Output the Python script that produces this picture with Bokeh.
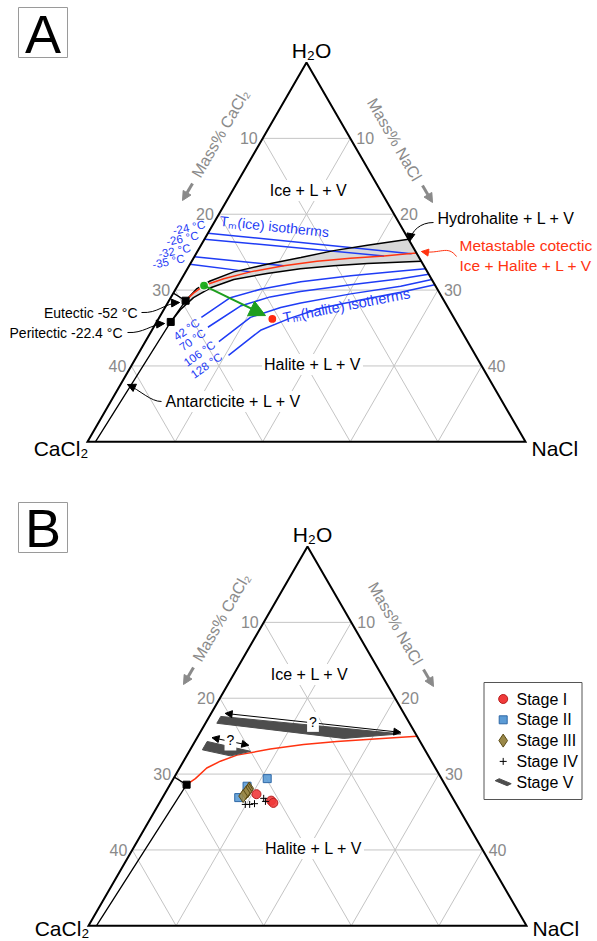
import numpy as np
from bokeh.plotting import figure
from bokeh.models import Range1d, Label, Arrow, NormalHead
from bokeh.embed import file_html
from bokeh.resources import INLINE

FONT = "Liberation Sans"

# ---------------- data (mass% CaCl2 = c, mass% NaCl = n) ----------------
ticks = [10, 20, 30, 40]
tick_labels = ["10", "20", "30", "40"]

eutectic = (29.5, 1.9)
peritectic = (32.6, 1.6)
binary_eutectic_c = 30.4
antarcticite_base = (49.1, 0.9)

hh_upper_c = [29.5, 27.4, 25.4, 22.1, 17.8, 13.5, 9.3, 5.1, 0.0]
hh_upper_n = [1.9, 2.4, 3.4, 5.5, 8.8, 12.2, 15.5, 19.0, 23.3]
hh_lower_c = [32.6, 30.7, 28.4, 25.8, 22.6, 18.4, 14.3, 10.3, 6.3, 0.0]
hh_lower_n = [1.6, 1.9, 2.6, 3.9, 6.0, 9.4, 12.9, 16.5, 20.2, 26.2]

cot_A_c = [29.5, 28.1, 26.4, 23.7, 20.2, 16.0, 11.9, 7.9, 3.9, 0.0]
cot_A_n = [1.9, 2.3, 3.0, 4.8, 7.4, 10.8, 14.3, 17.9, 21.6, 25.1]

ice_iso_labels = ["-24 °C", "-26 °C", "-32 °C", "-35 °C"]
ice_iso_c0 = [22.5, 23.3, 25.6, 26.6]
ice_iso_c1 = [0.6, 3.9, 16.0, 20.2]
ice_iso_n1 = [24.6, 21.6, 10.8, 7.4]

hal_iso_labels = ["42 °C", "70 °C", "106 °C", "128 °C"]
hal_iso_c = [[28.8, 24.2, 20.2, 15.1, 9.0, 3.0, 0.0],
             [28.7, 23.6, 19.6, 15.8, 9.6, 3.5, 0.0],
             [28.4, 23.2, 19.1, 16.5, 10.2, 4.0, 0.0],
             [28.2, 22.9, 18.7, 14.6, 9.5, 4.4, 0.0]]
hal_iso_n = [[4.8, 6.8, 9.7, 13.8, 19.1, 24.5, 27.2],
             [6.2, 8.5, 11.3, 14.4, 19.7, 25.0, 27.9],
             [8.4, 10.4, 13.2, 15.2, 20.3, 25.5, 28.6],
             [10.4, 12.4, 15.0, 17.8, 21.8, 25.9, 29.3]]

green_pt = (26.4, 3.0)
red_pt = (20.8, 13.0)

cot_B_c = [29.5, 28.1, 26.1, 24.1, 21.8, 17.6, 13.5, 9.5, 5.5, 0.0]
cot_B_n = [1.9, 2.5, 3.1, 4.2, 5.7, 9.1, 12.6, 16.2, 19.9, 25.0]

s5_big_c = [21.1, 1.7, 8.5, 22.0]
s5_big_n = [1.3, 23.0, 16.8, 1.3]
s5_big_arrow_c = [20.4, 1.6]
s5_big_arrow_n = [1.6, 22.9]
s5_small_c = [24.3, 20.0, 22.6, 25.4]
s5_small_n = [1.4, 7.0, 5.0, 1.4]
s5_small_arrow_c = [23.5, 19.8]
s5_small_arrow_n = [1.7, 6.4]

stage1_c = [22.15, 20.9, 20.8]
stage1_n = [10.5, 12.6, 13.0]
stage2_c = [19.9, 22.7, 24.4]
stage2_n = [10.7, 8.9, 8.7]
stage3_c = [22.6, 22.75, 23.0, 23.3, 23.8]
stage3_n = [9.3, 9.3, 9.3, 9.2, 9.1]
stage4_c = [24.1, 23.6, 23.0, 21.6, 21.6]
stage4_n = [9.9, 10.4, 10.9, 11.6, 12.0]

legend_labels = ["Stage I", "Stage II", "Stage III", "Stage IV", "Stage V"]

# ---------------- ternary frame ----------------
HW = 219.0
H = 379.3
APEX = {"A": (306.0, 62.0), "B": (307.0, 546.0)}
CORNER_DY = {"A": 7.0, "B": 3.0}


def tern(c, n, panel):
    c = np.asarray(c, dtype=float)
    n = np.asarray(n, dtype=float)
    ax, ay = APEX[panel]
    return ax + (n - c) / 50.0 * HW, ay + (c + n) / 50.0 * H


p = figure(width=597, height=941, x_range=Range1d(0, 597), y_range=Range1d(941, 0),
           min_border=0, toolbar_location=None, output_backend="svg",
           x_axis_location=None, y_axis_location=None)
p.grid.visible = False
p.outline_line_color = None

GRAY_TXT = "#8a8a8a"
BLUE = "#1f3cf5"
RED = "#ff3311"
GREEN = "#1e9e1e"


def label(x, y, text, size=16, color="black", align="center", baseline="middle",
          angle=0, bg=None):
    kw = {}
    if bg is not None:
        kw = dict(background_fill_color=bg, background_fill_alpha=1.0, padding=2)
    p.add_layout(Label(x=x, y=y, text=text, text_font=FONT, text_font_size=f"{size}px",
                       text_color=color, text_align=align, text_baseline=baseline,
                       angle=angle, angle_units="deg", **kw))


def arrow(x0, y0, x1, y1, color="black", width=1, head=7):
    p.add_layout(Arrow(end=NormalHead(size=head, fill_color=color, line_color=color, line_width=1),
                       x_start=x0, y_start=y0, x_end=x1, y_end=y1,
                       line_color=color, line_width=width))


def curved_arrow(x0, y0, cx0, cy0, cx1, cy1, x1, y1, color="black", width=1, head=7):
    p.bezier(x0=[x0], y0=[y0], x1=[x1], y1=[y1], cx0=[cx0], cy0=[cy0], cx1=[cx1], cy1=[cy1],
             line_color=color, line_width=width)
    dx, dy = x1 - cx1, y1 - cy1
    L = float(np.hypot(dx, dy))
    arrow(x1 - dx / L * 2, y1 - dy / L * 2, x1, y1, color=color, width=width, head=head)


def frame(panel):
    xs, ys = [], []
    for k in ticks:
        for (c0, n0, c1, n1) in [(k, 0, 0, k), (k, 0, k, 50 - k), (0, k, 50 - k, k)]:
            gx, gy = tern([c0, c1], [n0, n1], panel)
            xs.append(list(gx))
            ys.append(list(gy))
    p.multi_line(xs, ys, line_color="#c4c4c4", line_width=1)


def outline(panel):
    ox, oy = tern([0, 50, 0, 0], [0, 0, 50, 0], panel)
    p.line(ox, oy, line_color="black", line_width=2, line_join="miter")


def frame_text(panel):
    ax, ay = APEX[panel]
    for k, t in zip(ticks, tick_labels):
        lx, ly = tern(k, 0, panel)
        label(float(lx) - 5, float(ly), t, size=16, color=GRAY_TXT, align="right")
        rx, ry = tern(0, k, panel)
        label(float(rx) + 6, float(ry), t, size=16, color=GRAY_TXT, align="left")
    label(ax - 86, ay + 71, "Mass% CaCl₂", size=16, color=GRAY_TXT, angle=60)
    label(ax + 88, ay + 77, "Mass% NaCl", size=16, color=GRAY_TXT, angle=-60)
    arrow(ax - 114, ay + 121, ax - 124, ay + 138, color=GRAY_TXT, width=3, head=9)
    arrow(ax + 116, ay + 123, ax + 126, ay + 140, color=GRAY_TXT, width=3, head=9)
    label(ax + 5, ay - 12, "H₂O", size=21)
    label(ax - HW + 1, ay + H + CORNER_DY[panel], "CaCl₂", size=21, align="right")
    label(ax + HW + 6, ay + H + CORNER_DY[panel], "NaCl", size=21, align="left")
    label(ax + 2, ay + 128, "Ice + L + V", size=16, bg="white")
    label(ax + 6, ay + 302, "Halite + L + V", size=16, bg="white")


# ======================= Panel A =======================
frame("A")

ux, uy = tern(hh_upper_c, hh_upper_n, "A")
lx, ly = tern(hh_lower_c, hh_lower_n, "A")
bx = list(ux) + list(lx[::-1])
by = list(uy) + list(ly[::-1])
p.patch(bx, by, fill_color="#d9d9d9", line_color=None)

ice_lab_pos = [(188.5, 227), (182, 238), (174, 250.5), (168, 261)]
for i, lab in enumerate(ice_iso_labels):
    ix, iy = tern([ice_iso_c0[i], ice_iso_c1[i]], [0, ice_iso_n1[i]], "A")
    p.line(ix, iy, line_color=BLUE, line_width=1.5)
    label(ice_lab_pos[i][0], ice_lab_pos[i][1], lab, size=11.5, color=BLUE, angle=12)

hal_lab_pos = [(186, 329), (192, 339.5), (199, 353), (206, 365)]
for i, lab in enumerate(hal_iso_labels):
    hx, hy = tern(hal_iso_c[i], hal_iso_n[i], "A")
    p.line(hx, hy, line_color=BLUE, line_width=1.5)
    label(hal_lab_pos[i][0], hal_lab_pos[i][1], lab, size=11.5, color=BLUE, angle=35)

p.line(ux, uy, line_color="black", line_width=1.5)
p.line(lx, ly, line_color="black", line_width=1.5)
cx_, cy_ = tern(cot_A_c, cot_A_n, "A")
p.line(cx_, cy_, line_color=RED, line_width=1.5)

inx, iny = tern([antarcticite_base[0], peritectic[0], eutectic[0], binary_eutectic_c],
                [antarcticite_base[1], peritectic[1], eutectic[1], 0], "A")
p.line(inx, iny, line_color="black", line_width=1.3)
outline("A")

sx, sy = tern([eutectic[0], peritectic[0]], [eutectic[1], peritectic[1]], "A")
p.scatter(sx, sy, marker="square", size=7, fill_color="black", line_color="black")

gx, gy = tern(*green_pt, "A")
rx, ry = tern(*red_pt, "A")
gx, gy, rx, ry = float(gx), float(gy), float(rx), float(ry)
p.add_layout(Arrow(end=NormalHead(size=16, fill_color=GREEN, line_color=GREEN),
                   x_start=gx, y_start=gy, x_end=gx + 0.9 * (rx - gx), y_end=gy + 0.9 * (ry - gy),
                   line_color=GREEN, line_width=2))
p.scatter([gx], [gy], size=9, fill_color="#22b022", line_color="white", line_width=1.2)
p.scatter([rx], [ry], size=9, fill_color="#ff2a10", line_color="white", line_width=1.2)

frame_text("A")

label(274, 226, "Tₘ(ice) isotherms", size=14, color=BLUE, angle=-6)
label(346, 305, "Tₘ(halite) isotherms", size=14.5, color=BLUE, angle=11)

label(437, 218, "Hydrohalite + L + V", size=16, align="left")
curved_arrow(433, 222, 420, 222, 411, 230, 409, 241, head=8)
label(459, 245, "Metastable cotectic", size=15.5, color=RED, align="left")
label(459, 265, "Ice + Halite + L + V", size=15.5, color=RED, align="left")
curved_arrow(456, 256, 447, 244, 440, 254, 421, 251, color=RED, head=7)

label(137, 312, "Eutectic -52 °C", size=14, align="right")
curved_arrow(141, 312, 158, 313, 163, 303, 179, 302, head=8)
label(122, 332, "Peritectic -22.4 °C", size=14, align="right")
curved_arrow(127, 332, 143, 333, 150, 324, 164, 323, head=8)
label(163, 401, "Antarcticite + L + V", size=16, align="left", bg="white")
curved_arrow(161, 401, 150, 401, 140, 390, 127, 384, head=8)

p.quad(left=[18], right=[67], top=[7], bottom=[57], fill_color=None, line_color="#9a9a9a")
label(42.5, 33, "A", size=54)

# ======================= Panel B =======================
frame("B")
bcx, bcy = tern(cot_B_c, cot_B_n, "B")
p.line(bcx, bcy, line_color=RED, line_width=1.5)
inx, iny = tern([antarcticite_base[0], eutectic[0], binary_eutectic_c],
                [antarcticite_base[1], eutectic[1], 0], "B")
p.line(inx, iny, line_color="black", line_width=1.3)
outline("B")
ex, ey = tern(*eutectic, "B")
p.scatter([float(ex)], [float(ey)], marker="square", size=7, fill_color="black", line_color="black")

DARK = "#4d4d4d"
vx, vy = tern(s5_big_c, s5_big_n, "B")
p.patch(vx, vy, fill_color=DARK, line_color=DARK)
vx, vy = tern(s5_small_c, s5_small_n, "B")
p.patch(vx, vy, fill_color=DARK, line_color=DARK)
for ac, an in [(s5_big_arrow_c, s5_big_arrow_n), (s5_small_arrow_c, s5_small_arrow_n)]:
    axx, ayy = tern(ac, an, "B")
    p.add_layout(Arrow(start=NormalHead(size=7, fill_color="black"), end=NormalHead(size=7, fill_color="black"),
                       x_start=float(axx[0]), y_start=float(ayy[0]), x_end=float(axx[1]), y_end=float(ayy[1]),
                       line_color="black", line_width=1))
    label(float(axx.mean()), float(ayy.mean()) - 1, "?", size=14, bg="white")

x1, y1 = tern(stage2_c, stage2_n, "B")
p.scatter(x1, y1, marker="square", size=8, fill_color="#5b9bd5", line_color="#2f68a6", fill_alpha=0.9)
x1, y1 = tern(stage3_c, stage3_n, "B")
p.scatter(x1, y1, marker="diamond", size=13, fill_color="#9a8848", line_color="#5c4c18", fill_alpha=0.85)
x1, y1 = tern(stage1_c, stage1_n, "B")
p.scatter(x1, y1, marker="circle", size=9, fill_color="#f03a3a", line_color="#b81e1e", fill_alpha=0.9)
x1, y1 = tern(stage4_c, stage4_n, "B")
p.scatter(x1, y1, marker="cross", size=7, line_color="black", line_width=1)

frame_text("B")

p.quad(left=[18], right=[67], top=[502], bottom=[552], fill_color=None, line_color="#9a9a9a")
label(42.5, 527, "B", size=54)

p.quad(left=[483.5], right=[581.5], top=[682], bottom=[799], fill_color="white", line_color="#555555")
ly0 = 698.5
dy = 20.8
mx = 502.7
p.scatter([mx], [ly0], marker="circle", size=9, fill_color="#f03a3a", line_color="#b81e1e")
p.scatter([mx], [ly0 + dy], marker="square", size=8, fill_color="#5b9bd5", line_color="#2f68a6")
p.scatter([mx], [ly0 + 2 * dy], marker="diamond", size=13, fill_color="#9a8848", line_color="#5c4c18")
p.scatter([mx], [ly0 + 3 * dy], marker="cross", size=7, line_color="black")
yy = ly0 + 4 * dy
p.patch([mx - 8, mx - 4, mx + 8, mx + 4], [yy - 1.5, yy - 3.5, yy + 1.5, yy + 3.5], fill_color=DARK, line_color=DARK)
for i, t in enumerate(legend_labels):
    label(516, ly0 + i * dy, t, size=16, align="left")

open("out.html", "w").write(file_html(p, INLINE))
